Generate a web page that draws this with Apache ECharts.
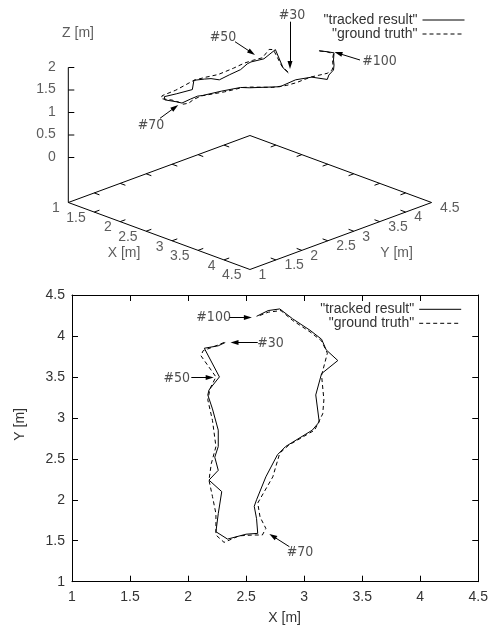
<!DOCTYPE html>
<html>
<head>
<meta charset="utf-8">
<script src="https://cdn.jsdelivr.net/npm/echarts@6/dist/echarts.min.js"></script>
<style>
    html, body { margin: 0; padding: 0; background: #fff; }
    #main { width: 491px; height: 626px; }
</style>
</head>
<body>
<div id="main"></div>
<script>
// tracked result (frames #30 .. #100), metres
var trackX = [2.32, 2.26, 2.14, 2.27, 2.18, 2.17, 2.21, 2.26, 2.26, 2.23, 2.26, 2.18, 2.29, 2.26, 2.24, 2.34, 2.50, 2.60,
              2.59, 2.57, 2.59, 2.67, 2.77, 2.84, 3.07, 3.13, 3.10, 3.15, 3.29, 3.19, 3.15, 3.05, 2.90, 2.79, 2.69, 2.59];
var trackY = [3.92, 3.88, 3.85, 3.50, 3.34, 3.28, 3.11, 2.85, 2.65, 2.52, 2.36, 2.24, 2.10, 1.83, 1.61, 1.52, 1.58, 1.59,
              1.77, 1.92, 2.00, 2.28, 2.55, 2.65, 2.85, 2.95, 3.28, 3.54, 3.70, 3.83, 3.96, 4.07, 4.21, 4.33, 4.31, 4.24];
var trackZ = [1.20, 1.30, 1.67, 1.67, 1.63, 1.61, 1.57, 1.59, 1.56, 1.63, 1.70, 1.69, 1.59, 1.60, 1.62, 1.63, 1.63, 1.64,
              1.65, 1.64, 1.63, 1.64, 1.65, 1.63, 1.66, 1.65, 1.65, 1.62, 1.56, 1.56, 1.60, 1.62, 1.61, 1.67, 1.66, 1.67];

// ground truth
var truthX = [2.31, 2.24, 2.13, 2.11, 2.24, 2.19, 2.17, 2.21, 2.24, 2.20, 2.18, 2.21, 2.24, 2.24, 2.31, 2.44, 2.56, 2.64,
              2.67, 2.62, 2.60, 2.73, 2.79, 2.87, 3.09, 3.16, 3.17, 3.15, 3.20, 3.15, 3.05, 2.90, 2.80, 2.69, 2.60];
var truthY = [3.92, 3.88, 3.82, 3.76, 3.50, 3.36, 3.22, 2.97, 2.65, 2.44, 2.24, 2.04, 1.83, 1.57, 1.48, 1.56, 1.57, 1.57,
              1.65, 1.79, 1.96, 2.28, 2.57, 2.67, 2.85, 3.05, 3.22, 3.52, 3.79, 3.94, 4.05, 4.19, 4.31, 4.29, 4.24];
var truthZ = [1.22, 1.32, 1.68, 1.70, 1.68, 1.66, 1.65, 1.66, 1.67, 1.68, 1.69, 1.68, 1.67, 1.66, 1.66, 1.65, 1.65, 1.64,
              1.64, 1.64, 1.64, 1.65, 1.65, 1.65, 1.66, 1.65, 1.64, 1.63, 1.62, 1.62, 1.63, 1.64, 1.66, 1.67, 1.67];

var xyTicks = [1, 1.5, 2, 2.5, 3, 3.5, 4, 4.5];
var zTicks = [0, 0.5, 1, 1.5, 2];

(
    function () {
        var FONT = 'Liberation Sans';
        var NARROW = '"Liberation Sans Narrow", "DejaVu Sans Condensed", sans-serif';
        var TRACK = '"tracked result"';
        var TRUTH = '"ground truth"';

        // 3d view is drawn on a hidden pixel-sized grid; proj() maps (x, y, z) onto it
        var org = [68.3, 202.5], kxy = 51.9, kd = 19.14, kz = 45, zBase = -1, tl = 0.1;
        function proj(x, y, z) {
            return [org[0] + kxy * ((x - 1) + (y - 1)),
                    org[1] + kd * ((x - 1) - (y - 1)) - kz * (z - zBase)];
        }

        var lo = xyTicks[0], hi = xyTicks[xyTicks.length - 1];
        var frame = [
            { coords: [proj(lo, lo, zBase), proj(hi, lo, zBase), proj(hi, hi, zBase), proj(lo, hi, zBase), proj(lo, lo, zBase)] },
            { coords: [proj(lo, lo, zBase), proj(lo, lo, zTicks[zTicks.length - 1])] }
        ];
        xyTicks.slice(1, -1).forEach(function (t) {
            frame.push({ coords: [proj(t, lo, zBase), proj(t, lo + tl, zBase)] });
            frame.push({ coords: [proj(t, hi, zBase), proj(t, hi - tl, zBase)] });
            frame.push({ coords: [proj(lo, t, zBase), proj(lo + tl, t, zBase)] });
            frame.push({ coords: [proj(hi, t, zBase), proj(hi - tl, t, zBase)] });
        });
        zTicks.forEach(function (z) {
            var p = proj(lo, lo, z);
            frame.push({ coords: [p, [p[0] + 6, p[1]]] });
        });

        var labels3d = [];
        xyTicks.forEach(function (t) {
            labels3d.push({ value: proj(t, lo, zBase), name: String(t), label: { position: [-8, 6.5], align: 'right' } });
            labels3d.push({ value: proj(hi, t, zBase), name: String(t), label: { position: [9, 6], align: 'left' } });
        });
        zTicks.forEach(function (z) {
            labels3d.push({ value: proj(lo, lo, z), name: String(z), label: { position: [-12, 0], align: 'right' } });
        });
        labels3d.push({ value: [78, 33.3], name: 'Z [m]', label: { align: 'center' } });
        labels3d.push({ value: [124, 252.7], name: 'X [m]', label: { align: 'center' } });
        labels3d.push({ value: [396.5, 253], name: 'Y [m]', label: { align: 'center' } });

        // annotation layout (3d view in pixels, 2d view in metres)
        var anno3d = [
            { name: '#30', text: [292, 15], from: [290, 21.7], to: [290, 65] },
            { name: '#50', text: [223, 37.7], from: [235, 41.7], to: [251.7, 52.7] },
            { name: '#70', text: [151, 125], from: [160, 118.3], to: [175, 107.3] },
            { name: '#100', text: [379.5, 61], from: [360, 60], to: [338.3, 53.3] }
        ];
        var anno2d = [
            { name: '#100', text: [2.22, 4.224], from: [2.357, 4.224], to: [2.515, 4.224] },
            { name: '#30', text: [2.71, 3.915], from: [2.6, 3.92], to: [2.4, 3.92] },
            { name: '#50', text: [1.902, 3.48], from: [2.028, 3.493], to: [2.186, 3.493] },
            { name: '#70', text: [2.965, 1.354], from: [2.873, 1.427], to: [2.729, 1.557] }
        ];

        function annoSeries(list, gi) {
            return {
                type: 'scatter', xAxisIndex: gi, yAxisIndex: gi, silent: true, symbolSize: 1,
                itemStyle: { color: 'rgba(0,0,0,0)' },
                label: { show: true, position: 'inside', formatter: '{b}', color: '#222', fontSize: 14, fontFamily: NARROW },
                data: list.map(function (a) { return { name: a.name, value: a.text }; }),
                markLine: {
                    silent: true, symbol: ['none', 'triangle'], symbolSize: [5, 8], animation: false,
                    label: { show: false },
                    itemStyle: { color: '#000' },
                    lineStyle: { color: '#000', width: 1, type: 'solid' },
                    data: list.map(function (a) { return [{ coord: a.from }, { coord: a.to }]; })
                }
            };
        }

        function pathLine(name, xs, ys, zs, dashed, gi) {
            var data = xs.map(function (x, i) { return zs ? proj(x, ys[i], zs[i]) : [x, ys[i]]; });
            return {
                name: name, type: 'line', xAxisIndex: gi, yAxisIndex: gi, data: data,
                symbol: 'none', silent: true,
                lineStyle: { color: '#000', width: 1, type: dashed ? [4, 3] : 'solid' },
                itemStyle: { color: '#000' }
            };
        }

        function axis2d(pos, withLabels) {
            return {
                gridIndex: 1, type: 'value', position: pos, min: 1, max: 4.5, interval: 0.5,
                axisLine: { show: true, onZero: false, lineStyle: { color: '#000', width: 1 } },
                axisTick: { show: true, inside: true, length: 6, lineStyle: { color: '#000' } },
                axisLabel: { show: withLabels, color: '#333', fontSize: 14, fontFamily: FONT, margin: pos === 'left' ? 7 : 8 },
                splitLine: { show: false }
            };
        }

        function legendAt(name, right, top) {
            return {
                data: [name], right: right, top: top, orient: 'vertical', align: 'right', padding: 0,
                itemWidth: 42, itemHeight: 14, itemGap: 0, selectedMode: false,
                itemStyle: { color: 'rgba(0,0,0,0)', borderWidth: 0 },
                lineStyle: { width: 1 },
                textStyle: { fontSize: 14, color: '#333', fontFamily: FONT }
            };
        }

        var xBottom = axis2d('bottom', true);
        xBottom.name = 'X [m]';
        xBottom.nameLocation = 'middle';
        xBottom.nameGap = 29;
        xBottom.nameTextStyle = { fontSize: 14, color: '#333', fontFamily: FONT, padding: [0, 0, 0, 19] };
        var yLeft = axis2d('left', true);
        yLeft.name = 'Y [m]';
        yLeft.nameLocation = 'middle';
        yLeft.nameGap = 45;
        yLeft.nameTextStyle = { fontSize: 14, color: '#333', fontFamily: FONT, padding: [0, 0, 0, 28] };

        var myChart = echarts.init(document.getElementById('main'));

        var option = {
            animation: false,
            backgroundColor: '#fff',
            textStyle: { fontFamily: FONT },
            grid: [
                { left: 0, top: 0, width: 491, height: 290 },
                { left: 72, top: 295, width: 407.3, height: 286.7 }
            ],
            legend: [
                legendAt(TRACK, 26, 13),
                legendAt(TRUTH, 26, 27),
                legendAt(TRACK, 29.3, 302.3),
                legendAt(TRUTH, 29.3, 316.3)
            ],
            xAxis: [
                { gridIndex: 0, type: 'value', min: 0, max: 491, show: false },
                xBottom,
                axis2d('top', false)
            ],
            yAxis: [
                { gridIndex: 0, type: 'value', min: 0, max: 290, inverse: true, show: false },
                yLeft,
                axis2d('right', false)
            ],
            series: [
                {
                    type: 'lines', coordinateSystem: 'cartesian2d', xAxisIndex: 0, yAxisIndex: 0,
                    polyline: true, silent: true,
                    lineStyle: { color: '#000', width: 1, opacity: 1, curveness: 0 },
                    data: frame
                },
                {
                    type: 'scatter', xAxisIndex: 0, yAxisIndex: 0, silent: true, symbolSize: 1,
                    itemStyle: { color: 'rgba(0,0,0,0)' },
                    label: { show: true, formatter: '{b}', verticalAlign: 'middle', color: '#333', fontSize: 14, fontFamily: FONT },
                    data: labels3d
                },
                pathLine(TRACK, trackX, trackY, trackZ, false, 0),
                pathLine(TRUTH, truthX, truthY, truthZ, true, 0),
                annoSeries(anno3d, 0),
                pathLine(TRACK, trackX, trackY, null, false, 1),
                pathLine(TRUTH, truthX, truthY, null, true, 1),
                annoSeries(anno2d, 1)
            ]
        };

        myChart.setOption(option);
    }()
)
</script>
</body>
</html>
